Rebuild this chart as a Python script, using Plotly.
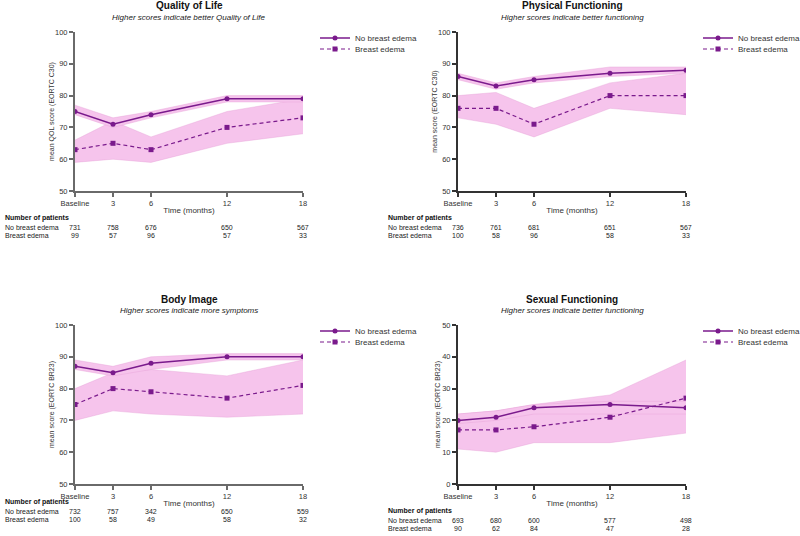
import plotly.graph_objects as go

months = [0, 3, 6, 12, 18]
tick_text = ["Baseline", "3", "6", "12", "18"]

panel_titles = ["Quality of Life", "Physical Functioning", "Body Image", "Sexual Functioning"]
panel_subtitles = ["Higher scores indicate better Quality of Life",
                   "Higher scores indicate better functioning",
                   "Higher scores indicate more symptoms",
                   "Higher scores indicate better functioning"]
y_titles = ["mean QOL score (EORTC C30)", "mean score (EORTC C30)",
            "mean score (EORTC BR23)", "mean score (EORTC BR23)"]
y_ranges = [[50, 100], [50, 100], [50, 100], [0, 50]]

# Quality of Life
qol_no = [75, 71, 74, 79, 79]
qol_no_hi = [77, 73, 75, 80, 80]
qol_no_lo = [74, 70, 73, 78, 78]
qol_ed = [63, 65, 63, 70, 73]
qol_ed_hi = [66, 72, 67, 75, 79]
qol_ed_lo = [59, 60, 59, 65, 68]

# Physical Functioning
pf_no = [86, 83, 85, 87, 88]
pf_no_hi = [87, 84, 86, 89, 89]
pf_no_lo = [85, 82, 84, 86, 87]
pf_ed = [76, 76, 71, 80, 80]
pf_ed_hi = [80, 81, 76, 84, 87]
pf_ed_lo = [73, 71, 67, 76, 74]

# Body Image
bi_no = [87, 85, 88, 90, 90]
bi_no_hi = [89, 87, 90, 91, 91]
bi_no_lo = [86, 84, 86, 89, 89]
bi_ed = [75, 80, 79, 77, 81]
bi_ed_hi = [80, 85, 86, 84, 89]
bi_ed_lo = [70, 73, 72, 71, 72]

# Sexual Functioning
sf_no = [20, 21, 24, 25, 24]
sf_no_hi = [22, 23, 25, 26, 26]
sf_no_lo = [19, 20, 22, 22, 22]
sf_ed = [17, 17, 18, 21, 27]
sf_ed_hi = [22, 23, 25, 28, 39]
sf_ed_lo = [11, 10, 13, 13, 16]

# Number of patients
n_qol_no = [731, 758, 676, 650, 567]
n_qol_ed = [99, 57, 96, 57, 33]
n_pf_no = [736, 761, 681, 651, 567]
n_pf_ed = [100, 58, 96, 58, 33]
n_bi_no = [732, 757, 342, 650, 559]
n_bi_ed = [100, 58, 49, 58, 32]
n_sf_no = [693, 680, 600, 577, 498]
n_sf_ed = [90, 62, 84, 47, 28]

panels = [
    (qol_no, qol_no_lo, qol_no_hi, qol_ed, qol_ed_lo, qol_ed_hi, n_qol_no, n_qol_ed),
    (pf_no, pf_no_lo, pf_no_hi, pf_ed, pf_ed_lo, pf_ed_hi, n_pf_no, n_pf_ed),
    (bi_no, bi_no_lo, bi_no_hi, bi_ed, bi_ed_lo, bi_ed_hi, n_bi_no, n_bi_ed),
    (sf_no, sf_no_lo, sf_no_hi, sf_ed, sf_ed_lo, sf_ed_hi, n_sf_no, n_sf_ed),
]

W, H = 800, 536
LINE = "#7a1a8c"
BAND = "#f6c4ec"
FONT = "Liberation Sans, Arial, sans-serif"

# pixel layout (left, right, top, bottom) of each plot area
boxes = [(75, 303, 32, 191), (458, 686, 32, 191), (75, 303, 325, 484), (458, 686, 325, 484)]
axis_colors = ["#6a6a6a", "#333333", "#6a6a6a", "#333333"]
table_left = [3, 386, 3, 386]
table_off = [27, 27, 18, 27]

def px(x):
    return x / W

def py(y):
    return 1 - y / H

fig = go.Figure()
layout = dict(width=W, height=H, margin=dict(l=0, r=0, t=0, b=0, autoexpand=False),
              paper_bgcolor="white", plot_bgcolor="white",
              font=dict(family=FONT, size=8, color="#222"), showlegend=True)
annotations = []

for i, (no, no_lo, no_hi, ed, ed_lo, ed_hi, n_no, n_ed) in enumerate(panels):
    k = "" if i == 0 else str(i + 1)
    xa, ya = "x" + k, "y" + k
    leg_a = "legend" + ("" if i == 0 else str(2 * i + 1))
    leg_b = "legend" + str(2 * i + 2)
    l, r, t, b = boxes[i]
    # bands
    for lo, hi in [(ed_lo, ed_hi), (no_lo, no_hi)]:
        fig.add_trace(go.Scatter(x=months, y=lo, xaxis=xa, yaxis=ya, mode="lines",
                                 line=dict(width=0.5, color="rgba(230,160,215,0.8)"),
                                 showlegend=False, hoverinfo="skip"))
        fig.add_trace(go.Scatter(x=months, y=hi, xaxis=xa, yaxis=ya, mode="lines",
                                 line=dict(width=0.5, color="rgba(230,160,215,0.8)"),
                                 fill="tonexty", fillcolor=BAND,
                                 showlegend=False, hoverinfo="skip"))
    fig.add_trace(go.Scatter(x=months, y=no, xaxis=xa, yaxis=ya, mode="lines+markers",
                             name="No breast edema", legend=leg_a,
                             line=dict(color=LINE, width=1.5),
                             marker=dict(symbol="circle", size=5, color=LINE)))
    fig.add_trace(go.Scatter(x=months, y=ed, xaxis=xa, yaxis=ya, mode="lines+markers",
                             name="Breast edema", legend=leg_b,
                             line=dict(color=LINE, width=1.2, dash="4px,3px"),
                             marker=dict(symbol="square", size=5, color=LINE)))
    ac = axis_colors[i]
    layout["xaxis" + k] = dict(domain=[px(l), px(r)], range=[0, 18], anchor=ya,
                               tickvals=months, ticktext=tick_text, ticks="outside",
                               ticklen=4, tickwidth=1.5, tickcolor=ac,
                               showline=True, linewidth=2, linecolor=ac,
                               showgrid=False, zeroline=False, automargin=False,
                               tickfont=dict(size=7.5, color="#333"),
                               title=dict(text="Time (months)", font=dict(size=8, color="#333"), standoff=0))
    layout["yaxis" + k] = dict(domain=[py(b), py(t)], range=y_ranges[i], anchor=xa,
                               dtick=10, ticks="outside", ticklen=4, tickwidth=1.5,
                               tickcolor=ac, showline=True, linewidth=2, linecolor=ac,
                               showgrid=False, zeroline=False, automargin=False,
                               tickfont=dict(size=7.5, color="#333"),
                               title=dict(text=y_titles[i], font=dict(size=7, color="#333"), standoff=0))
    for j, leg in enumerate([leg_a, leg_b]):
        layout[leg] = dict(x=px(r + 12), y=py(t + 6 + 11 * j), xanchor="left", yanchor="middle",
                           font=dict(size=8, color="#333"), bgcolor="rgba(0,0,0,0)",
                           itemwidth=30)
    cx = px((l + r) / 2)
    annotations.append(dict(text="<b>" + panel_titles[i] + "</b>", x=cx, y=py(t - 26),
                            xref="paper", yref="paper", showarrow=False,
                            font=dict(size=10, color="#111"), xanchor="center", yanchor="middle"))
    annotations.append(dict(text="<i>" + panel_subtitles[i] + "</i>", x=cx, y=py(t - 15),
                            xref="paper", yref="paper", showarrow=False,
                            font=dict(size=8, color="#222"), xanchor="center", yanchor="middle"))
    # table
    tl = table_left[i]
    to = table_off[i]
    annotations.append(dict(text="<b>Number of patients</b>", x=px(tl), y=py(b + to),
                            xref="paper", yref="paper", showarrow=False,
                            font=dict(size=7, color="#111"), xanchor="left", yanchor="middle"))
    for j, (lab, vals) in enumerate([("No breast edema", n_no), ("Breast edema", n_ed)]):
        yy = py(b + to + 9 + 8.5 * j)
        annotations.append(dict(text=lab, x=px(tl), y=yy, xref="paper", yref="paper",
                                showarrow=False, font=dict(size=7, color="#222"),
                                xanchor="left", yanchor="middle"))
        for m, v in zip(months, vals):
            annotations.append(dict(text=str(v), x=m, y=yy, xref=xa, yref="paper",
                                    showarrow=False, font=dict(size=7, color="#222"),
                                    xanchor="center", yanchor="middle"))

layout["annotations"] = annotations
fig.update_layout(**layout)
fig.write_html("out.html", config={"displayModeBar": False},
               post_script="document.body.style.margin='0px';")
